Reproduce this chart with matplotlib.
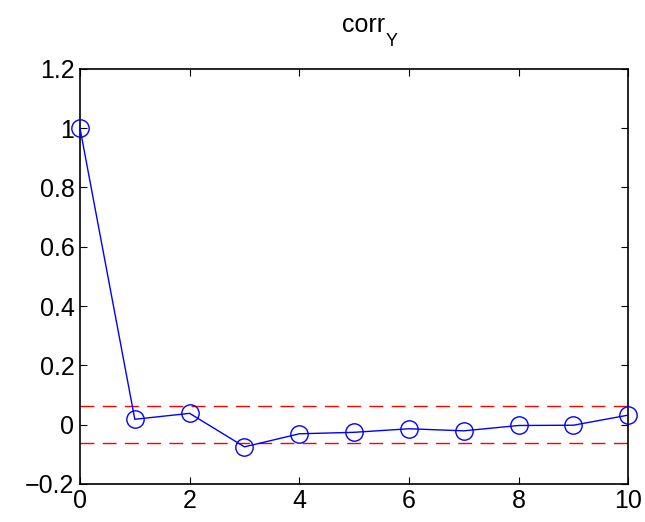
import matplotlib
matplotlib.use('Agg')
from matplotlib import pyplot as plt

lags = [0, 1, 2, 3, 4, 5, 6, 7, 8, 9, 10]
corr = [1.0, 0.018, 0.038, -0.075, -0.031, -0.026, -0.014, -0.021, -0.003, -0.002, 0.032]
bound = 0.062

plt.rcParams['font.family'] = ['Liberation Sans', 'DejaVu Sans']

fig = plt.figure(figsize=(6.45, 5.22), dpi=100)
ax = fig.add_axes([0.124, 0.073, 0.850, 0.795])

ax.plot(lags, corr, '-o', color='blue', lw=1, markersize=12.5,
        markerfacecolor='none', markeredgewidth=1, clip_on=False, zorder=3)
ax.axhline(bound, color='red', ls=(0, (10, 6)), lw=1)
ax.axhline(-bound, color='red', ls=(0, (10, 6)), lw=1)

ax.set_xlim(0, 10)
ax.set_ylim(-0.2, 1.2)
ax.set_xticks([0, 2, 4, 6, 8, 10])
ax.set_yticks([-0.2, 0, 0.2, 0.4, 0.6, 0.8, 1, 1.2])
ax.set_yticklabels(['\u22120.2', '0', '0.2', '0.4', '0.6', '0.8', '1', '1.2'])
ax.tick_params(direction='in', length=5, labelsize=18, top=True, right=True, pad=4)
for s in ax.spines.values():
    s.set_linewidth(1.2)

# title with a lowered subscript, like the original
ax.text(0.557, 1.09, 'corr', transform=ax.transAxes, ha='right', va='baseline', fontsize=18)
ax.text(0.557, 1.055, 'Y', transform=ax.transAxes, ha='left', va='baseline', fontsize=13)

fig.savefig('out.png', dpi=100)
